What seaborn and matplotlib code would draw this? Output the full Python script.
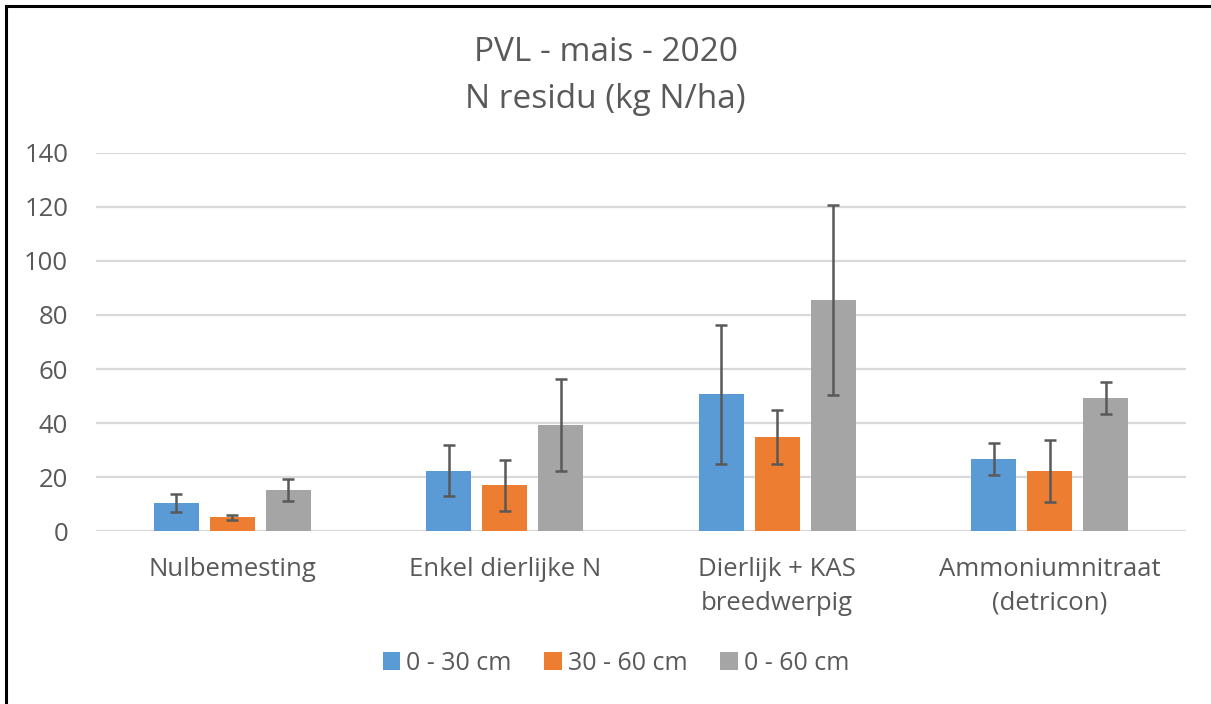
import pandas as pd
import numpy as np
import matplotlib
matplotlib.use('Agg')
import matplotlib.pyplot as plt
import seaborn as sns
from matplotlib.patches import Rectangle

# dados
categorias = ['Nulbemesting', 'Enkel dierlijke N', 'Dierlijk + KAS\nbreedwerpig', 'Ammoniumnitraat\n(detricon)']
diepte = ['0 - 30 cm', '30 - 60 cm', '0 - 60 cm']
v_0_30 = [10.3, 22.3, 50.7, 26.8]
v_30_60 = [5.1, 17.0, 34.7, 22.3]
v_0_60 = [15.3, 39.3, 85.7, 49.4]
err_0_30 = [3.4, 9.4, 25.7, 5.9]
err_30_60 = [0.85, 9.4, 10.0, 11.4]
err_0_60 = [4.0, 16.9, 35.2, 5.9]
kleuren = ['#5B9BD5', '#ED7D31', '#A5A5A5']

df = pd.DataFrame({
    'categorie': categorias * 3,
    'diepte': [d for d in diepte for _ in categorias],
    'waarde': v_0_30 + v_30_60 + v_0_60,
    'fout': err_0_30 + err_30_60 + err_0_60,
})

sns.set_style('white')
plt.rcParams['font.family'] = ['Open Sans', 'DejaVu Sans']
tekst = '#595959'

fig = plt.figure(figsize=(12.11, 7.04), dpi=100)
ax = fig.add_axes([0.0793, 0.2457, 0.9001, 0.537])

sns.barplot(df, x='categorie', y='waarde', hue='diepte', palette=kleuren,
            errorbar=None, width=0.616, gap=0.195, ax=ax, saturation=1,
            edgecolor='none')

# foutbalken op de middens van de staven
for i, d in enumerate(diepte):
    sub = df[df['diepte'] == d]
    bars = ax.containers[i]
    xs = [b.get_x() + b.get_width() / 2 for b in bars]
    ax.errorbar(xs, sub['waarde'], yerr=sub['fout'], fmt='none',
                ecolor=tekst, elinewidth=1.8, capsize=4.2, capthick=1.8, zorder=5)

ax.set_ylim(0, 140)
ax.set_xlim(-0.5, 3.5)
ax.set_yticks(range(0, 141, 20))
ax.yaxis.grid(True, color='#D9D9D9', linewidth=1.6)
ax.set_axisbelow(True)
for s in ax.spines.values():
    s.set_visible(False)
ax.set_xlabel('')
ax.set_ylabel('')
ax.tick_params(axis='both', length=0, labelsize=18.5, colors=tekst)
ax.tick_params(axis='x', pad=19)
ax.tick_params(axis='y', pad=20)
for lbl in ax.get_xticklabels():
    lbl.set_linespacing(1.45)

fig.text(0.5, 0.926, 'PVL - mais - 2020', ha='center', va='center', fontsize=24, color=tekst)
fig.text(0.5, 0.858, 'N residu (kg N/ha)', ha='center', va='center', fontsize=24, color=tekst)

ax.legend(loc='center', bbox_to_anchor=(0.477, -0.35), ncol=3, frameon=False,
          fontsize=18, labelcolor=tekst, handlelength=0.7, handleheight=0.7,
          handletextpad=0.25, columnspacing=1.3)

fig.patches.append(Rectangle((6 / 1211, -0.05), 1.1, 1.05 - 6 / 704, transform=fig.transFigure,
                             fill=False, edgecolor='black', linewidth=2.2))

fig.savefig('out.png', dpi=100)
